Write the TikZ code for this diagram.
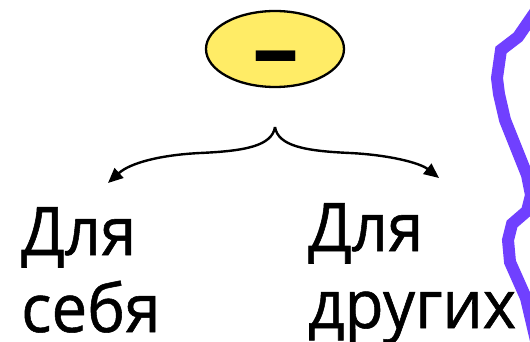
\documentclass[tikz,border=0pt]{standalone}
\usepackage{fontspec}
\setmainfont{Open Sans}
\newfontfamily\labelfont[FakeStretch=0.95,FakeBold=0.8]{Open Sans}
\usetikzlibrary{shapes.geometric,arrows.meta}
\definecolor{bubble}{HTML}{FFEC66}
\definecolor{zig}{HTML}{7040FF}
\tikzset{
  bubble/.style={ellipse,draw=black,line width=2.3pt,fill=bubble,minimum width=138pt,minimum height=76pt,inner sep=0pt},
  label/.style={anchor=north west,inner sep=0pt,align=left,font=\labelfont\fontsize{67}{77}\selectfont},
  branch/.style={line width=2.4pt,-{Triangle[length=15pt,width=13pt]}},
  zigline/.style={draw=zig,line width=12pt,line join=miter}
}
\begin{document}
\begin{tikzpicture}[x=1pt,y=-1pt]
\useasboundingbox (0,0) rectangle (530,342);
\clip (0,0) rectangle (530,342);
\fill[white] (0,0) rectangle (530,342);
\node[bubble] (oval) at (275,49) {};
\node[inner sep=0pt,anchor=base,font=\fontsize{94}{94}\bfseries\selectfont] (minus) at (276,82) {–};
\coordinate (tip) at (275,127);
\coordinate (lend) at (108,183);
\coordinate (rend) at (439,178);
\draw[branch] (tip) .. controls (272,146) and (245,151) .. (200,153) .. controls (160,155) and (130,163) .. (lend);
\draw[branch] (tip) .. controls (278,146) and (305,151) .. (350,153) .. controls (390,155) and (420,163) .. (rend);
\node[label] (self) at (21,207) {Для\\себя};
\node[label] (others) at (308,203) {Для\\других};
\draw[zigline] (540,5) -- (518,37) -- (501,50) -- (497,78) -- (499,94) -- (505,120) -- (527,175) -- (531,195) -- (527,211) -- (512,224) -- (508,240) -- (510,262) -- (526,298) -- (537,345);
\end{tikzpicture}
\end{document}
